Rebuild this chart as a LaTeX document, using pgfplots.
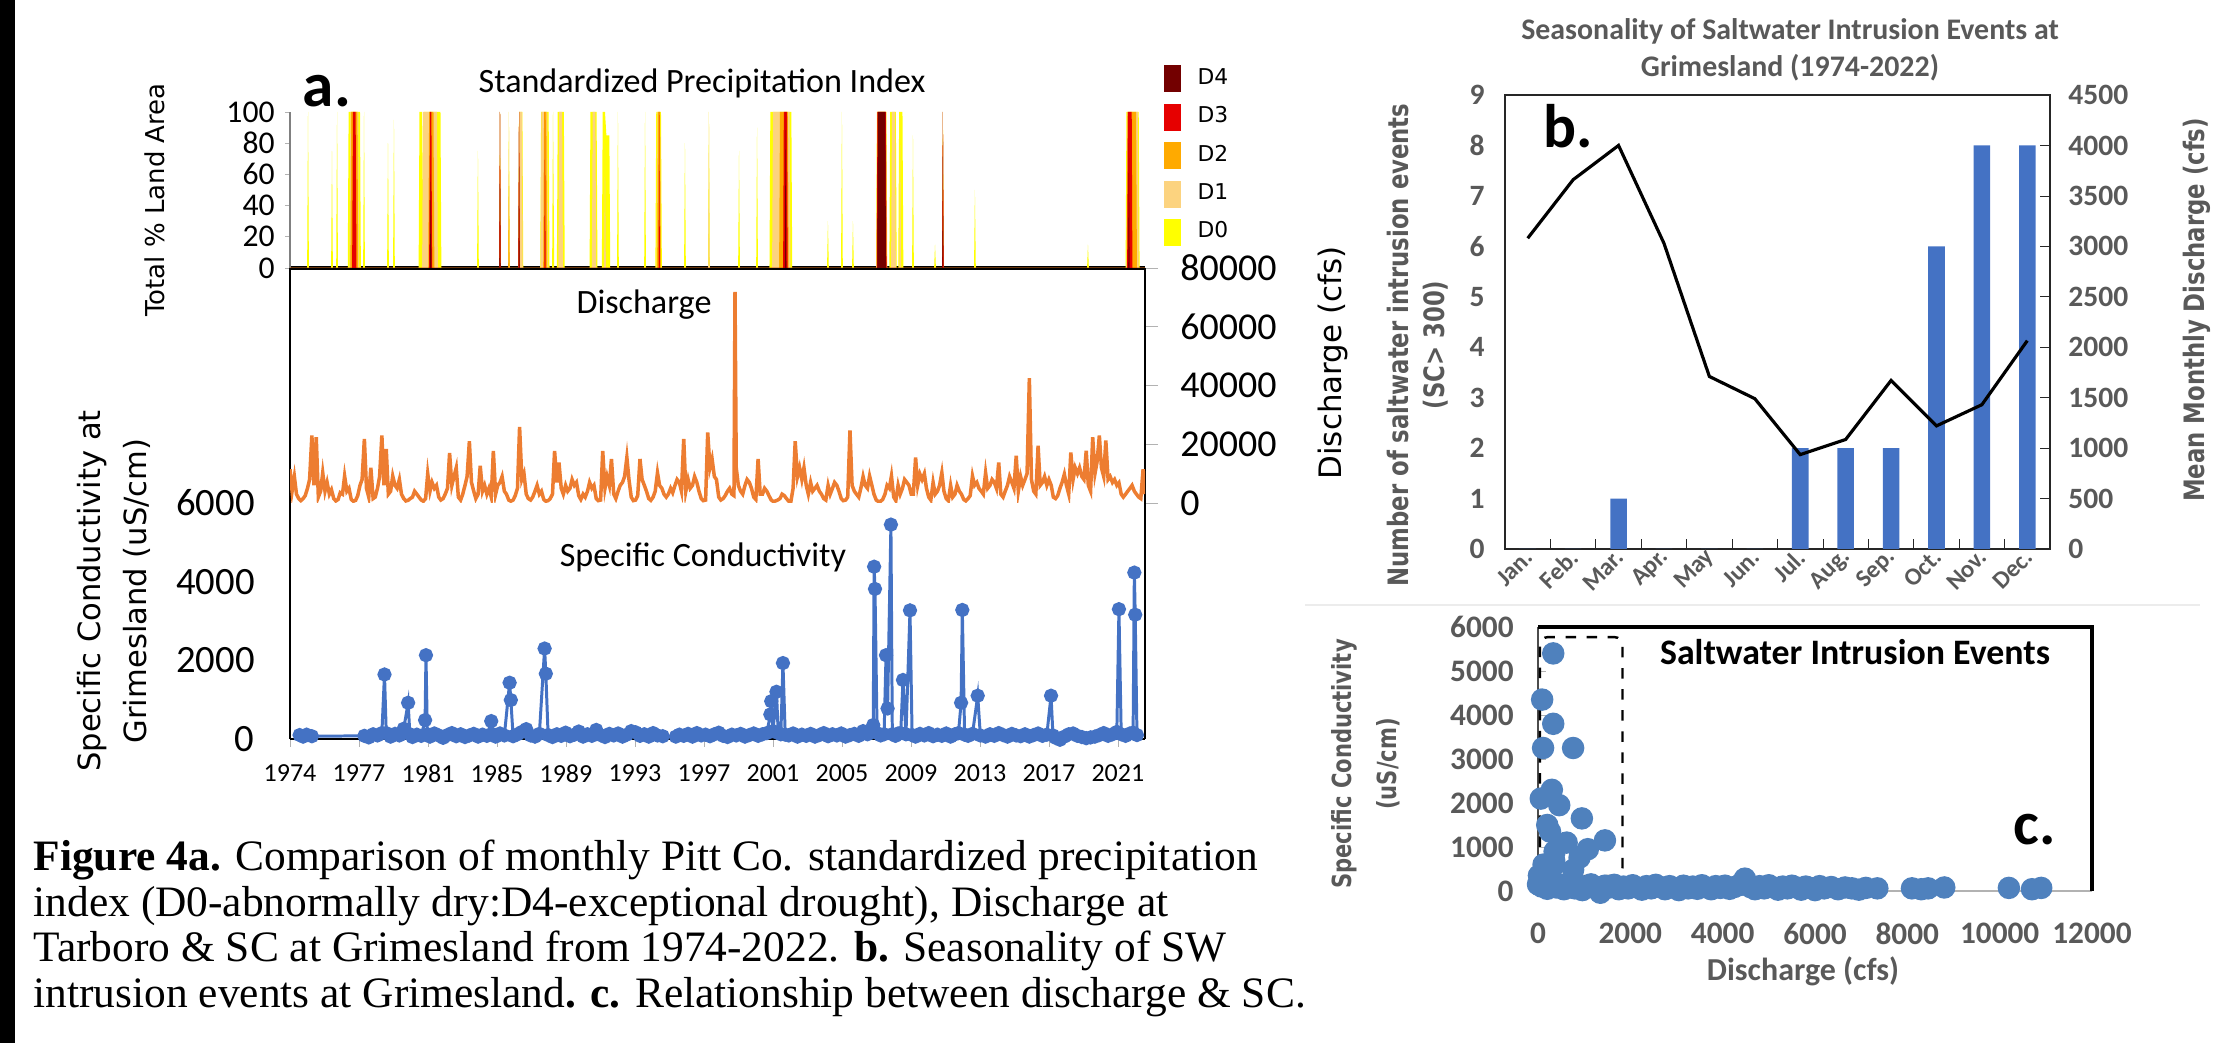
\documentclass[border=0pt]{standalone}
\usepackage{fontspec}
\setmainfont{Liberation Serif}
\newfontfamily\calib{Carlito}
\newfontfamily\dejavu{DejaVu Sans}
\usepackage{pgfplots}
\usepackage{pgfplotstable}
\pgfplotsset{compat=1.18}

\definecolor{dzero}{HTML}{FFFF00}
\definecolor{done}{HTML}{FCD37F}
\definecolor{dtwo}{HTML}{FFAA00}
\definecolor{dthree}{HTML}{E60000}
\definecolor{dfour}{HTML}{730000}
\definecolor{qorange}{HTML}{ED7D31}
\definecolor{scblue}{HTML}{4472C4}
\definecolor{dotblue}{RGB}{79,129,189}
\definecolor{txtgray}{HTML}{595959}

% panel c: discharge (cfs) vs SC (uS/cm)
\pgfplotstableread{
q sc
330 5400
90 4350
330 3800
110 3250
760 3250
300 2300
60 2100
460 1950
950 1650
200 1500
260 1350
620 1100
1450 1150
1080 950
900 760
360 900
350 700
760 480
300 520
120 600
200 350
80 300
20 350
150 380
250 300
0 150
40 250
80 100
150 200
200 50
260 120
330 180
400 80
480 140
560 40
640 110
720 170
800 60
880 130
960 20
1050 100
1150 150
1250 60
1350 -40
1450 120
1550 80
1650 140
1750 40
1850 100
1950 60
2050 130
2150 80
2250 30
2350 110
2450 60
2550 140
2650 90
2750 40
2850 110
2950 70
3050 20
3150 120
3250 60
3350 100
3450 50
3550 130
3650 80
3750 40
3850 110
3950 70
4050 120
4150 50
4250 90
4350 130
4480 280
4600 90
4700 40
4800 110
4900 60
5000 130
5100 80
5200 30
5300 100
5400 60
5500 120
5600 80
5700 30
5800 100
5900 70
6000 20
6100 110
6200 60
6350 90
6500 40
6650 80
6800 60
6950 30
7100 70
7350 60
8100 60
8300 40
8450 60
8800 80
10200 70
10700 40
10900 70
}\scattertab

\begin{document}
\begin{tikzpicture}
\useasboundingbox (0,0) rectangle (22.13,10.43);
\fill[black] (0,0) rectangle (0.15,10.43);

% ---------- panel a: SPI ----------
\begin{axis}[at={(2.90cm,7.75cm)}, anchor=south west, scale only axis,
  width=8.55cm, height=1.56cm, xmin=1974, xmax=2022.86, ymin=0, ymax=100,
  axis x line*=bottom, axis y line*=left,
  x axis line style={line width=1.3pt,-}, y axis line style={gray,-},
  xtick=\empty, ytick={0,20,...,100}, tick align=outside, major tick length=0.05cm,
  tick style={gray!60},
  yticklabel style={font=\calib\fontsize{9}{10}\selectfont, xshift=0.02cm},
  /pgf/number format/assume math mode=true,
  reverse legend,
  legend image code/.code={\fill[#1] (0cm,-0.135cm) rectangle (0.17cm,0.135cm);},
  legend style={at={(1.021,1.33)}, anchor=north west, draw=none, fill=none,
    inner sep=0pt, row sep=0.03cm, column sep=0.1cm,
    font=\dejavu\fontsize{6.2}{7}\selectfont, cells={anchor=west}},
]
\addplot[fill=dzero, draw=none] coordinates {
(1974.0,0)
(1974.98,0)(1975.03,100)(1975.08,0)
(1976.35,0)(1976.40,75)(1976.45,0)
(1976.64,0)(1976.69,100)(1976.74,0)
(1977.30,0)(1977.35,100)(1978.0,100)(1978.05,0)
(1978.18,0)(1978.23,100)(1978.28,0)
(1979.55,0)(1979.60,80)(1979.65,0)
(1979.89,0)(1979.94,95)(1979.99,0)
(1981.35,0)(1981.40,100)(1981.55,100)(1981.60,40)(1981.66,100)(1982.60,100)(1982.65,0)
(1984.69,0)(1984.74,75)(1984.79,0)
(1985.95,0)(1986.0,100)(1986.05,0)
(1986.46,0)(1986.51,100)(1986.56,0)
(1987.04,0)(1987.09,100)(1987.28,100)(1987.33,0)
(1988.30,0)(1988.35,100)(1988.78,100)(1988.83,0)
(1988.98,0)(1989.03,100)(1989.10,0)
(1989.25,0)(1989.30,100)(1989.65,100)(1989.70,0)
(1991.12,0)(1991.17,100)(1991.52,100)(1991.57,0)
(1991.82,0)(1991.87,100)(1992.0,100)(1992.08,85)(1992.25,85)(1992.30,0)
(1992.69,0)(1992.74,100)(1992.79,0)
(1994.24,0)(1994.29,100)(1994.34,0)
(1994.88,0)(1994.93,100)(1995.20,100)(1995.25,0)
(1996.52,0)(1996.57,80)(1996.62,0)
(1997.89,0)(1997.94,100)(1997.99,0)
(1999.61,0)(1999.66,75)(1999.71,0)
(2000.64,0)(2000.69,90)(2000.74,0)
(2001.40,0)(2001.45,100)(2002.65,100)(2002.70,0)
(2004.69,0)(2004.74,30)(2004.79,0)
(2005.49,0)(2005.54,100)(2005.59,0)
(2006.12,0)(2006.17,30)(2006.22,0)
(2007.49,0)(2007.54,100)(2008.08,100)(2008.13,0)
(2008.25,0)(2008.30,100)(2008.62,100)(2008.67,0)
(2008.76,0)(2008.81,100)(2009.0,100)(2009.05,0)
(2009.55,0)(2009.60,85)(2009.65,0)
(2010.81,0)(2010.86,15)(2010.91,0)
(2011.26,0)(2011.31,100)(2011.36,0)
(2013.09,0)(2013.14,50)(2013.19,0)
(2019.55,0)(2019.60,15)(2019.65,0)
(2021.75,0)(2021.80,100)(2022.50,100)(2022.55,0)
(2022.86,0)} \closedcycle;
\addlegendentry{D0}
\addplot[fill=done, draw=none] coordinates {
(1974.0,0)
(1977.40,0)(1977.45,100)(1977.90,100)(1977.95,0)
(1981.55,0)(1981.60,100)(1982.40,100)(1982.45,0)
(1985.96,0)(1986.0,100)(1986.04,0)
(1986.47,0)(1986.51,100)(1986.55,0)
(1987.05,0)(1987.09,100)(1987.26,100)(1987.30,0)
(1988.32,0)(1988.37,100)(1988.70,100)(1988.75,0)
(1989.33,0)(1989.38,100)(1989.55,100)(1989.60,0)
(1991.25,0)(1991.30,100)(1991.45,100)(1991.50,0)
(1991.95,0)(1992.0,80)(1992.05,0)
(1994.95,0)(1995.0,100)(1995.15,100)(1995.20,0)
(1997.90,0)(1997.94,100)(1997.98,0)
(2001.55,0)(2001.60,100)(2002.55,100)(2002.60,0)
(2007.50,0)(2007.55,100)(2008.07,100)(2008.12,0)
(2008.35,0)(2008.40,100)(2008.58,100)(2008.62,0)
(2008.82,0)(2008.86,100)(2008.92,0)
(2011.27,0)(2011.31,100)(2011.35,0)
(2021.80,0)(2021.85,100)(2022.45,100)(2022.50,0)
(2022.86,0)} \closedcycle;
\addlegendentry{D1}
\addplot[fill=dtwo, draw=none] coordinates {
(1974.0,0)
(1977.45,0)(1977.50,100)(1977.85,100)(1977.90,0)
(1981.90,0)(1981.95,100)(1982.20,100)(1982.25,0)
(1985.96,0)(1986.0,100)(1986.04,0)
(1986.47,0)(1986.51,60)(1986.55,0)
(1987.05,0)(1987.09,100)(1987.13,0)
(1988.47,0)(1988.52,100)(1988.65,100)(1988.70,0)
(1994.98,0)(1995.03,100)(1995.15,100)(1995.20,0)
(2001.95,0)(2002.0,100)(2002.45,100)(2002.50,0)
(2007.52,0)(2007.56,100)(2008.06,100)(2008.10,0)
(2011.27,0)(2011.31,100)(2011.35,0)
(2021.82,0)(2021.86,100)(2022.35,100)(2022.40,0)
(2022.86,0)} \closedcycle;
\addlegendentry{D2}
\addplot[fill=dthree, draw=none] coordinates {
(1974.0,0)
(1977.55,0)(1977.60,100)(1977.75,100)(1977.80,0)
(1981.95,0)(1982.0,100)(1982.08,100)(1982.12,0)
(1985.96,0)(1986.0,100)(1986.04,0)
(1987.05,0)(1987.09,100)(1987.13,0)
(1988.53,0)(1988.57,100)(1988.61,0)
(1995.06,0)(1995.10,100)(1995.14,0)
(2002.18,0)(2002.22,100)(2002.40,100)(2002.44,0)
(2007.53,0)(2007.57,100)(2008.05,100)(2008.09,0)
(2011.27,0)(2011.31,100)(2011.35,0)
(2021.84,0)(2021.88,100)(2022.10,100)(2022.14,0)
(2022.86,0)} \closedcycle;
\addlegendentry{D3}
\addplot[fill=dfour, draw=none] coordinates {
(1974.0,0)
(1982.00,0)(1982.04,60)(1982.08,0)
(1985.97,0)(1986.0,100)(1986.03,0)
(1987.06,0)(1987.09,100)(1987.12,0)
(2002.28,0)(2002.32,100)(2002.36,0)
(2007.56,0)(2007.60,100)(2008.02,100)(2008.06,0)
(2011.28,0)(2011.31,100)(2011.34,0)
(2021.90,0)(2021.94,80)(2021.98,0)
(2022.86,0)} \closedcycle;
\addlegendentry{D4}
\end{axis}

% ---------- panel a: discharge ----------
\begin{axis}[at={(2.90cm,5.40cm)}, anchor=south west, scale only axis,
  width=8.55cm, height=2.35cm, xmin=1974, xmax=2022.86, ymin=0, ymax=80000,
  axis x line=none, axis y line=box, ytick pos=right,
  axis line style={black, line width=0.5pt},
  ytick={0,20000,...,80000}, tick align=outside, major tick length=0.13cm,
  tick style={gray!60}, scaled y ticks=false,
  yticklabel style={font=\calib\fontsize{10.8}{12}\selectfont, xshift=0.1cm},
  /pgf/number format/assume math mode=true, /pgf/number format/1000 sep={},
]
\addplot[qorange, line width=1pt] coordinates {
(1974.00,11500)(1974.12,4000)(1974.25,9000)(1974.37,3000)(1974.50,1500)(1974.62,800)(1974.75,1500)(1974.87,2500)
(1975.00,5000)(1975.12,8000)(1975.25,23000)(1975.37,6000)(1975.50,22400)(1975.62,2000)(1975.75,4000)(1975.87,10300)
(1976.00,4000)(1976.12,7000)(1976.25,3000)(1976.37,4500)(1976.50,1500)(1976.62,700)(1976.75,1200)(1976.87,3500)
(1977.00,3000)(1977.12,9200)(1977.25,4000)(1977.37,5000)(1977.50,1200)(1977.62,600)(1977.75,900)(1977.87,2500)
(1978.00,6000)(1978.12,8000)(1978.25,21800)(1978.37,5000)(1978.50,2000)(1978.62,12000)(1978.75,1500)(1978.87,2000)
(1979.00,5000)(1979.12,9000)(1979.25,23000)(1979.37,6000)(1979.50,18400)(1979.62,3000)(1979.75,4000)(1979.87,9200)
(1980.00,6000)(1980.12,5000)(1980.25,8000)(1980.37,3000)(1980.50,1500)(1980.62,700)(1980.75,900)(1980.87,1500)
(1981.00,2000)(1981.12,4000)(1981.25,3000)(1981.37,2000)(1981.50,1000)(1981.62,600)(1981.75,1500)(1981.87,10000)
(1982.00,4000)(1982.12,7000)(1982.25,5000)(1982.37,6000)(1982.50,2000)(1982.62,1000)(1982.75,1500)(1982.87,3000)
(1983.00,5000)(1983.12,17000)(1983.25,6000)(1983.37,9000)(1983.50,12000)(1983.62,2000)(1983.75,1000)(1983.87,3000)
(1984.00,6000)(1984.12,9000)(1984.25,21000)(1984.37,7000)(1984.50,4000)(1984.62,1500)(1984.75,3000)(1984.87,12700)
(1985.00,4000)(1985.12,6000)(1985.25,3000)(1985.37,5000)(1985.50,2000)(1985.62,17700)(1985.75,3000)(1985.87,6000)
(1986.00,7000)(1986.12,9000)(1986.25,4000)(1986.37,3000)(1986.50,1000)(1986.62,600)(1986.75,1000)(1986.87,2500)
(1987.00,5000)(1987.12,25900)(1987.25,8000)(1987.37,10000)(1987.50,3000)(1987.62,1500)(1987.75,1000)(1987.87,2000)
(1988.00,4000)(1988.12,6000)(1988.25,3000)(1988.37,4000)(1988.50,1200)(1988.62,600)(1988.75,800)(1988.87,1500)
(1989.00,3000)(1989.12,17700)(1989.25,7000)(1989.37,13800)(1989.50,5000)(1989.62,3000)(1989.75,6000)(1989.87,4000)
(1990.00,5000)(1990.12,8000)(1990.25,6000)(1990.37,7000)(1990.50,2500)(1990.62,1200)(1990.75,3000)(1990.87,2000)
(1991.00,4000)(1991.12,7000)(1991.25,5000)(1991.37,6000)(1991.50,1500)(1991.62,800)(1991.75,1000)(1991.87,17700)
(1992.00,5000)(1992.12,9000)(1992.25,6000)(1992.37,15000)(1992.50,3000)(1992.62,1500)(1992.75,4000)(1992.87,6000)
(1993.00,7000)(1993.12,9000)(1993.25,15500)(1993.37,8000)(1993.50,2000)(1993.62,800)(1993.75,1000)(1993.87,2500)
(1994.00,15000)(1994.12,8000)(1994.25,6000)(1994.37,4000)(1994.50,1500)(1994.62,900)(1994.75,2000)(1994.87,4000)
(1995.00,10300)(1995.12,6000)(1995.25,5000)(1995.37,3000)(1995.50,2000)(1995.62,3000)(1995.75,5000)(1995.87,3500)
(1996.00,6000)(1996.12,8000)(1996.25,7000)(1996.37,4000)(1996.50,21800)(1996.62,4000)(1996.75,8000)(1996.87,5000)
(1997.00,6000)(1997.12,9000)(1997.25,7000)(1997.37,4000)(1997.50,1500)(1997.62,800)(1997.75,1000)(1997.87,24000)
(1998.00,12000)(1998.12,15000)(1998.25,9000)(1998.37,8000)(1998.50,2000)(1998.62,1000)(1998.75,1500)(1998.87,2500)
(1999.00,4000)(1999.12,5000)(1999.25,3000)(1999.37,2500)(1999.43,71900)(1999.50,12000)(1999.62,6000)(1999.75,4000)(1999.87,3000)
(2000.00,6000)(2000.12,8000)(2000.25,7000)(2000.37,5000)(2000.50,2000)(2000.62,1200)(2000.75,15000)(2000.87,3000)
(2001.00,3000)(2001.12,5000)(2001.25,4000)(2001.37,2500)(2001.50,1000)(2001.62,500)(2001.75,700)(2001.87,1000)
(2002.00,1500)(2002.12,3000)(2002.25,2500)(2002.37,1500)(2002.50,600)(2002.62,400)(2002.75,5000)(2002.87,21000)
(2003.00,9000)(2003.12,12000)(2003.25,8000)(2003.37,12000)(2003.50,6000)(2003.62,3000)(2003.75,7000)(2003.87,4000)
(2004.00,5000)(2004.12,6000)(2004.25,4000)(2004.37,3000)(2004.50,1500)(2004.62,1000)(2004.75,6000)(2004.87,3000)
(2005.00,5000)(2005.12,7000)(2005.25,6000)(2005.37,4000)(2005.50,1500)(2005.62,800)(2005.75,1000)(2005.87,2000)
(2006.00,24700)(2006.12,6000)(2006.25,4000)(2006.37,3000)(2006.50,2000)(2006.62,5000)(2006.75,9000)(2006.87,6000)
(2007.00,5000)(2007.12,9200)(2007.25,6000)(2007.37,3000)(2007.50,1000)(2007.62,500)(2007.75,600)(2007.87,1200)
(2008.00,3000)(2008.12,6000)(2008.25,5000)(2008.37,9200)(2008.50,2000)(2008.62,800)(2008.75,6000)(2008.87,3000)
(2009.00,5000)(2009.12,8000)(2009.25,7000)(2009.37,6000)(2009.50,3000)(2009.62,3000)(2009.75,15500)(2009.87,6000)
(2010.00,9800)(2010.12,8000)(2010.25,10000)(2010.37,5000)(2010.50,2000)(2010.62,1000)(2010.75,7000)(2010.87,3000)
(2011.00,4000)(2011.12,6000)(2011.25,10300)(2011.37,4000)(2011.50,1500)(2011.62,800)(2011.75,6000)(2011.87,2000)
(2012.00,3000)(2012.12,6000)(2012.25,4000)(2012.37,3000)(2012.50,1200)(2012.62,700)(2012.75,1500)(2012.87,2500)
(2013.00,9200)(2013.12,6000)(2013.25,7000)(2013.37,5000)(2013.50,4000)(2013.62,3000)(2013.75,10300)(2013.87,5000)
(2014.00,6000)(2014.12,8000)(2014.25,7000)(2014.37,5000)(2014.50,13800)(2014.62,3000)(2014.75,2000)(2014.87,4000)
(2015.00,6000)(2015.12,9000)(2015.25,7000)(2015.37,5000)(2015.50,16100)(2015.62,4000)(2015.75,9000)(2015.87,6000)
(2016.00,8000)(2016.12,10000)(2016.25,42500)(2016.37,8000)(2016.50,4000)(2016.62,3000)(2016.75,19500)(2016.87,6000)
(2017.00,7000)(2017.12,9000)(2017.25,6000)(2017.37,8000)(2017.50,6000)(2017.62,2000)(2017.75,1500)(2017.87,2500)
(2018.00,5000)(2018.12,7000)(2018.25,9800)(2018.37,6000)(2018.50,3000)(2018.62,17200)(2018.75,8000)(2018.87,12000)
(2019.00,10000)(2019.12,12000)(2019.25,9000)(2019.37,8000)(2019.50,17800)(2019.62,6000)(2019.75,4000)(2019.87,22400)
(2020.00,10000)(2020.12,14000)(2020.25,23000)(2020.37,12000)(2020.50,9000)(2020.62,21300)(2020.75,8000)(2020.87,9000)
(2021.00,7000)(2021.12,8000)(2021.25,6000)(2021.37,6900)(2021.50,3000)(2021.62,2000)(2021.75,3000)(2021.87,4000)
(2022.00,5000)(2022.12,6000)(2022.25,4000)(2022.37,3000)(2022.50,2000)(2022.62,1500)(2022.75,11500)(2022.86,3000)
};
\end{axis}

% ---------- panel a: specific conductivity ----------
\begin{axis}[at={(2.90cm,3.04cm)}, anchor=south west, scale only axis,
  width=8.55cm, height=2.36cm, xmin=1974, xmax=2022.86, ymin=0, ymax=6000,
  axis x line*=bottom, axis y line=box, ytick pos=left,
  axis line style={black, line width=0.5pt, -},
  xtick={1974,1977.94,1981.89,1985.83,1989.77,1993.71,1997.66,2001.60,2005.54,2009.48,2013.43,2017.37,2021.31},
  xticklabels={1974,1977,1981,1985,1989,1993,1997,2001,2005,2009,2013,2017,2021},
  ytick={0,2000,4000,6000}, ytick style={draw=none},
  xtick style={gray!60}, tick align=outside, major tick length=0.08cm,
  xticklabel style={font=\calib\fontsize{7.4}{8}\selectfont, yshift=-0.05cm},
  yticklabel style={font=\calib\fontsize{11}{12}\selectfont, xshift=-0.15cm},
  /pgf/number format/assume math mode=true, /pgf/number format/1000 sep={},
  clip=false,
]
\addplot[scblue, line width=0.85pt, mark=*, mark size=1.6pt, mark options={fill=scblue, draw=scblue}] coordinates {
(1974.55,100)(1974.75,60)(1974.95,110)(1975.25,70)
(1978.25,80)(1978.5,40)(1978.75,120)(1979.0,90)(1979.25,150)(1979.4,1640)(1979.5,150)(1979.75,60)
(1980.0,130)(1980.25,90)(1980.5,260)(1980.75,920)(1980.85,120)
(1981.0,50)(1981.25,110)(1981.5,80)(1981.72,480)(1981.77,2130)(1981.85,120)
(1982.0,60)(1982.25,140)(1982.5,90)(1982.75,30)(1983.0,100)(1983.25,150)(1983.5,70)(1983.75,120)
(1984.0,50)(1984.25,90)(1984.5,130)(1984.75,60)(1985.0,110)(1985.25,80)(1985.5,455)(1985.6,120)(1985.75,60)
(1986.0,140)(1986.25,90)(1986.55,1430)(1986.62,990)(1986.75,70)(1987.0,120)(1987.25,180)(1987.5,250)(1987.75,90)
(1988.0,60)(1988.25,130)(1988.55,2300)(1988.62,1660)(1988.75,100)(1989.0,50)(1989.25,120)(1989.5,80)(1989.75,160)
(1990.0,70)(1990.25,110)(1990.5,190)(1990.75,60)(1991.0,120)(1991.25,80)(1991.5,230)(1991.75,100)
(1992.0,50)(1992.25,130)(1992.5,90)(1992.75,140)(1993.0,60)(1993.25,110)(1993.5,200)(1993.75,170)
(1994.0,80)(1994.25,120)(1994.5,60)(1994.75,150)(1995.0,90)(1995.3,70)
(1996.05,60)(1996.25,110)(1996.5,80)(1996.75,130)(1997.0,60)(1997.25,150)(1997.5,90)(1997.75,110)
(1998.0,70)(1998.25,120)(1998.5,160)(1998.75,80)(1999.0,50)(1999.25,110)(1999.5,90)(1999.75,130)
(2000.0,60)(2000.25,100)(2000.5,140)(2000.75,80)(2001.0,120)(2001.25,150)(2001.45,625)(2001.5,960)(2001.6,200)
(2001.8,1200)(2001.9,150)(2002.05,120)(2002.17,1930)(2002.3,110)(2002.5,90)(2002.75,140)
(2003.0,60)(2003.25,110)(2003.5,80)(2003.75,130)(2004.0,60)(2004.25,100)(2004.5,150)(2004.75,70)
(2005.0,120)(2005.25,90)(2005.5,140)(2005.75,60)(2006.0,100)(2006.25,130)(2006.5,80)(2006.75,200)
(2007.0,120)(2007.33,355)(2007.38,4380)(2007.43,3815)(2007.55,150)(2007.75,90)(2007.95,120)
(2008.06,2130)(2008.15,775)(2008.34,5450)(2008.42,120)(2008.6,80)(2008.75,140)(2008.9,150)
(2009.03,1500)(2009.2,120)(2009.43,3270)(2009.55,100)(2009.75,60)
(2010.0,130)(2010.25,90)(2010.5,150)(2010.75,70)(2011.0,110)(2011.25,80)(2011.5,140)(2011.75,60)
(2012.0,120)(2012.2,150)(2012.35,920)(2012.42,3280)(2012.55,110)(2012.75,80)
(2013.0,130)(2013.3,1100)(2013.45,90)(2013.75,60)(2014.0,120)(2014.25,80)(2014.5,150)(2014.75,100)
(2015.0,60)(2015.25,130)(2015.5,90)(2015.75,70)(2016.0,120)(2016.25,60)(2016.5,100)(2016.75,140)
(2017.0,80)(2017.25,110)(2017.49,1100)(2017.6,90)(2017.75,30)(2018.0,-20)(2018.25,60)(2018.5,120)(2018.75,140)
(2019.0,80)(2019.25,50)(2019.5,20)(2019.75,40)(2020.0,60)(2020.25,100)(2020.5,150)(2020.75,80)
(2021.0,120)(2021.25,180)(2021.37,3300)(2021.5,120)(2021.75,80)(2022.0,140)(2022.18,160)
(2022.25,4230)(2022.3,3160)(2022.4,100)
};
\end{axis}

% ---------- panel b ----------
\begin{axis}[at={(15.05cm,4.94cm)}, anchor=south west, scale only axis,
  width=5.45cm, height=4.54cm, xmin=0.5, xmax=12.5, ymin=0, ymax=9,
  axis line style={black!85, line width=0.6pt},
  xtick={1,...,12},
  xticklabels={Jan.,Feb.,Mar.,Apr.,May,Jun.,Jul.,Aug.,Sep.,Oct.,Nov.,Dec.},
  minor x tick num=1, major x tick style={draw=none}, minor x tick style={black!85},
  minor tick length=0.1cm, tick align=inside, xtick pos=bottom,
  ytick={0,...,9}, ytick pos=left, major y tick style={draw=none},
  xticklabel style={rotate=45, anchor=east, inner sep=0.5pt, font=\calib\bfseries\fontsize{7}{8}\selectfont, text=txtgray, yshift=-0.04cm},
  yticklabel style={font=\calib\bfseries\fontsize{8.4}{9}\selectfont, text=txtgray, xshift=-0.08cm},
  /pgf/number format/assume math mode=true,
]
\addplot[ybar, bar width=0.166cm, fill=scblue, draw=none] coordinates {
(1,0)(2,0)(3,1)(4,0)(5,0)(6,0)(7,2)(8,2)(9,2)(10,6)(11,8)(12,8)};
\end{axis}
\begin{axis}[at={(15.05cm,4.94cm)}, anchor=south west, scale only axis,
  width=5.45cm, height=4.54cm, xmin=0.5, xmax=12.5, ymin=0, ymax=4500,
  axis x line=none, axis y line*=right, y axis line style={draw=none},
  ytick={0,500,...,4500}, tick align=inside, major tick length=0.1cm, tick style={black!85},
  yticklabel style={font=\calib\bfseries\fontsize{8.4}{9}\selectfont, text=txtgray, xshift=0.06cm},
  /pgf/number format/assume math mode=true, /pgf/number format/1000 sep={},
]
\addplot[black, line width=0.9pt] coordinates {
(1,3080)(2,3660)(3,4000)(4,3030)(5,1710)(6,1490)(7,935)(8,1085)(9,1670)(10,1220)(11,1430)(12,2065)};
\end{axis}

% ---------- panel c ----------
\begin{axis}[at={(15.38cm,1.52cm)}, anchor=south west, scale only axis,
  width=5.54cm, height=2.64cm, xmin=0, xmax=12000, ymin=0, ymax=6000,
  axis x line*=bottom, axis y line*=left,
  x axis line style={gray!60, line width=0.8pt, -}, y axis line style={black!70, line width=0.8pt, -},
  xtick={0,2000,...,12000}, ytick={0,1000,...,6000},
  xtick style={draw=none}, ytick style={gray!60}, tick align=inside, major tick length=0.08cm,
  scaled ticks=false,
  xticklabel style={font=\calib\bfseries\fontsize{8.9}{10}\selectfont, text=txtgray, yshift=-0.2cm},
  yticklabel style={font=\calib\bfseries\fontsize{8.9}{10}\selectfont, text=txtgray, xshift=-0.12cm},
  /pgf/number format/assume math mode=true, /pgf/number format/1000 sep={},
  clip=false,
]
\draw[black, line width=1.1pt] (rel axis cs:0,1) -- (rel axis cs:1,1) -- (rel axis cs:1,0);
\addplot[dotblue, only marks, mark=*, mark size=3pt, mark options={fill=dotblue, draw=none}] table[x=q, y=sc] {\scattertab};
\draw[black, dashed, line width=0.7pt, rounded corners=0.08cm] (axis cs:40,340) rectangle (axis cs:1830,5770);
\end{axis}

% ---------- text ----------
\node[anchor=base, font=\calib\bfseries\fontsize{18}{20}\selectfont] at (3.27,9.36) {a.};
\node[font=\calib\fontsize{9.7}{11}\selectfont] at (7.02,9.60) {Standardized Precipitation Index};
\node[rotate=90, font=\dejavu\fontsize{7.4}{9}\selectfont] at (1.55,8.43) {Total \% Land Area};
\node[rotate=90, align=center, font=\dejavu\fontsize{8.7}{13}\selectfont] at (1.14,4.52) {Specific Conductivity at\\Grimesland (uS/cm)};
\node[font=\calib\fontsize{9.7}{11}\selectfont] at (6.44,7.38) {Discharge};
\node[font=\calib\fontsize{9.7}{11}\selectfont] at (7.03,4.86) {Specific Conductivity};
\node[rotate=90, font=\dejavu\fontsize{8.8}{10}\selectfont] at (13.33,6.80) {Discharge (cfs)};

\node[align=center, text=txtgray, font=\calib\bfseries\fontsize{8.5}{10.5}\selectfont] at (17.90,9.93) {Seasonality of Saltwater Intrusion Events at\\Grimesland (1974-2022)};
\node[anchor=base, font=\calib\bfseries\fontsize{17.5}{20}\selectfont] at (15.68,8.95) {b.};
\node[rotate=90, text=txtgray, font=\dejavu\bfseries\fontsize{8}{9}\selectfont] at (13.98,6.98) {\scalebox{0.81}[1]{Number of saltwater intrusion events}};
\node[rotate=90, text=txtgray, font=\dejavu\bfseries\fontsize{8}{9}\selectfont] at (14.36,6.98) {\scalebox{0.81}[1]{(SC> 300)}};
\node[rotate=90, text=txtgray, font=\dejavu\bfseries\fontsize{8}{9}\selectfont] at (21.97,7.33) {\scalebox{0.81}[1]{Mean Monthly Discharge (cfs)}};

\draw[gray!15, line width=0.6pt] (13.05,4.38) -- (22.0,4.38);

\node[rotate=90, text=txtgray, font=\dejavu\bfseries\fontsize{7.5}{9}\selectfont] at (13.44,2.79) {\scalebox{0.8}[1]{Specific Conductivity}};
\node[rotate=90, text=txtgray, font=\dejavu\bfseries\fontsize{7.5}{9}\selectfont] at (13.88,2.79) {\scalebox{0.8}[1]{(uS/cm)}};
\node[font=\calib\bfseries\fontsize{10.2}{12}\selectfont] at (18.55,3.91) {Saltwater Intrusion Events};
\node[font=\calib\bfseries\fontsize{17.5}{20}\selectfont] at (20.35,2.13) {c.};
\node[text=txtgray, font=\calib\bfseries\fontsize{9.1}{11}\selectfont] at (18.03,0.72) {Discharge (cfs)};

\begin{scope}[every node/.style={anchor=base west, inner sep=0pt, font=\fontsize{12.35}{13}\selectfont}]
\node at (0.33,1.72) {\textbf{Figure 4a.} Comparison of monthly Pitt Co. standardized precipitation};
\node at (0.33,1.26) {index (D0-abnormally dry:D4-exceptional drought), Discharge at};
\node at (0.33,0.81) {Tarboro \& SC at Grimesland from 1974-2022. \textbf{b.} Seasonality of SW};
\node at (0.33,0.35) {intrusion events at Grimesland\textbf{.} \textbf{c.} Relationship between discharge \& SC.};
\end{scope}
\end{tikzpicture}
\end{document}
